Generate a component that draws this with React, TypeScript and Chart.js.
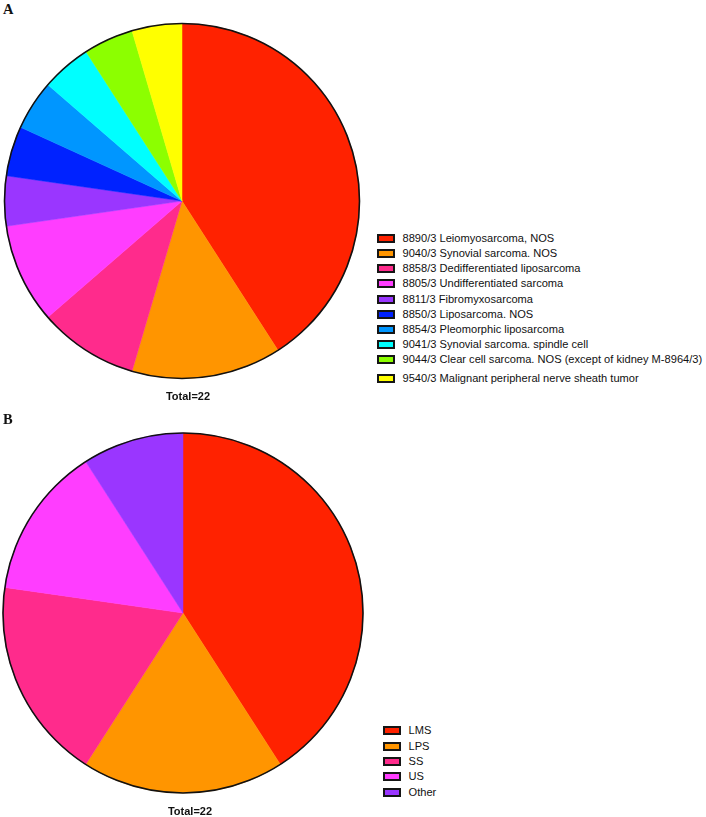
import React, { useEffect, useRef } from "react";
import { Chart, registerables } from "chart.js";

Chart.register(...registerables);

// ---- Data ----
const labelsA = [
  "8890/3 Leiomyosarcoma, NOS",
  "9040/3 Synovial sarcoma. NOS",
  "8858/3 Dedifferentiated liposarcoma",
  "8805/3 Undifferentiated sarcoma",
  "8811/3 Fibromyxosarcoma",
  "8850/3 Liposarcoma. NOS",
  "8854/3 Pleomorphic liposarcoma",
  "9041/3 Synovial sarcoma. spindle cell",
  "9044/3 Clear cell sarcoma. NOS (except of kidney M-8964/3)",
  "9540/3 Malignant peripheral nerve sheath tumor",
];
const valuesA = [9, 3, 2, 2, 1, 1, 1, 1, 1, 1];
const colorsA = [
  "#ff2200",
  "#ff9500",
  "#ff2b8c",
  "#ff3dff",
  "#9a36ff",
  "#0022ff",
  "#0096ff",
  "#00ffff",
  "#8cff00",
  "#ffff00",
];

const labelsB = ["LMS", "LPS", "SS", "US", "Other"];
const valuesB = [9, 4, 4, 3, 2];
const colorsB = ["#ff2200", "#ff9500", "#ff2b8c", "#ff3dff", "#9a36ff"];

const totalLabelA = "Total=22";
const totalLabelB = "Total=22";

const SANS = "Arial, 'Liberation Sans', Helvetica, sans-serif";
const SERIF = "'Times New Roman', 'Liberation Serif', Times, serif";

// ---- Plugins ----
const outlinePlugin = {
  id: "outline",
  afterDatasetsDraw(chart: any) {
    const arc = chart.getDatasetMeta(0).data[0];
    if (!arc) return;
    const { x, y, outerRadius } = arc.getProps(["x", "y", "outerRadius"], true);
    const ctx = chart.ctx;
    ctx.save();
    ctx.beginPath();
    ctx.arc(x, y, outerRadius, 0, Math.PI * 2);
    ctx.lineWidth = 1.6;
    ctx.strokeStyle = "#111";
    ctx.stroke();
    ctx.restore();
  },
};

type PieProps = {
  labels: string[];
  values: number[];
  colors: string[];
  radius: number;
  width: number;
  height: number;
  left: number;
  top: number;
};

function Pie({ labels, values, colors, radius, width, height, left, top }: PieProps) {
  const ref = useRef<HTMLCanvasElement | null>(null);
  useEffect(() => {
    if (!ref.current) return;
    const chart = new Chart(ref.current, {
      type: "pie",
      data: {
        labels,
        datasets: [
          {
            data: values,
            backgroundColor: colors,
            borderColor: colors,
            borderWidth: 0.5,
          },
        ],
      },
      options: {
        responsive: false,
        animation: false,
        radius,
        layout: { padding: 0 },
        plugins: {
          legend: { display: false },
          tooltip: { enabled: false },
        },
      },
      plugins: [outlinePlugin],
    });
    return () => chart.destroy();
  }, []);
  return (
    <canvas
      ref={ref}
      width={width}
      height={height}
      style={{ position: "absolute", left, top, width, height }}
    />
  );
}

type LegendProps = {
  labels: string[];
  colors: string[];
  left: number;
  centers: number[];
};

function Legend({ labels, colors, left, centers }: LegendProps) {
  return (
    <>
      {labels.map((l, i) => (
        <div
          key={l}
          style={{
            position: "absolute",
            left,
            top: centers[i] - 7.5,
            height: 15,
            display: "flex",
            alignItems: "center",
            whiteSpace: "nowrap",
            fontFamily: SANS,
            fontSize: "11.1px",
            lineHeight: "15px",
            color: "#111",
          }}
        >
          <span
            style={{
              display: "inline-block",
              width: 18,
              height: 9,
              boxSizing: "border-box",
              border: "2px solid #151515",
              background: colors[i],
              marginRight: 7.5,
            }}
          />
          <span>{l}</span>
        </div>
      ))}
    </>
  );
}

const legendCentersA = [238.6, 253.7, 268.8, 283.9, 299, 314.1, 329.2, 344.3, 359.4, 378];
const legendCentersB = [730.7, 746, 761.3, 776.6, 792];

export default function App() {
  const panelLabel = (text: string, top: number) => (
    <div
      style={{
        position: "absolute",
        left: 3,
        top,
        fontFamily: SERIF,
        fontWeight: "bold",
        fontSize: "14.5px",
        lineHeight: "14.5px",
        color: "#111",
      }}
    >
      {text}
    </div>
  );
  const total = (text: string, cx: number, top: number) => (
    <div
      style={{
        position: "absolute",
        left: cx - 50,
        width: 100,
        top,
        textAlign: "center",
        fontFamily: SANS,
        fontWeight: "bold",
        fontSize: "11px",
        lineHeight: "11px",
        color: "#111",
      }}
    >
      {text}
    </div>
  );
  return (
    <div
      style={{
        position: "absolute",
        left: 0,
        top: 0,
        width: 706,
        height: 817,
        background: "#fff",
        overflow: "hidden",
      }}
    >
      {panelLabel("A", 2)}
      <Pie labels={labelsA} values={valuesA} colors={colorsA} radius={177.5} width={364} height={402} left={0} top={0} />
      {total(totalLabelA, 188, 390.6)}
      <Legend labels={labelsA} colors={colorsA} left={377} centers={legendCentersA} />

      {panelLabel("B", 412)}
      <Pie labels={labelsB} values={valuesB} colors={colorsB} radius={180} width={366} height={406} left={0} top={410} />
      {total(totalLabelB, 190, 806.3)}
      <Legend labels={labelsB} colors={colorsB} left={383} centers={legendCentersB} />
    </div>
  );
}
